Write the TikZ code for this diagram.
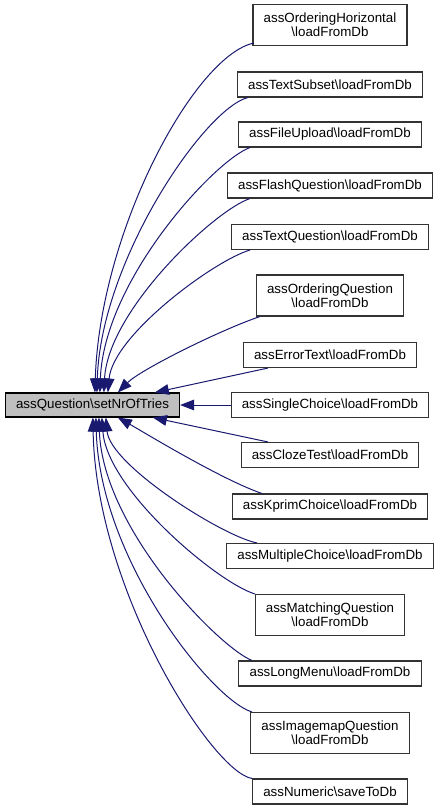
\documentclass[tikz,border=0pt]{standalone}
\usepackage{fontspec}
\setmainfont{Liberation Sans}
\usetikzlibrary{arrows.meta,calc}
\definecolor{edgeblue}{HTML}{191970}
\definecolor{maingray}{HTML}{BFBFBF}
\definecolor{boxline}{HTML}{333333}
\begin{document}
\begin{tikzpicture}[x=0.75pt,y=-0.75pt,
  box/.style={draw=boxline, line width=0.8pt, fill=white, font=\fontsize{10}{10.5}\selectfont, inner xsep=8pt, inner ysep=2pt, align=center},
  one/.style={box, minimum height=18.75pt},
  two/.style={box, minimum height=30.75pt},
  mainbox/.style={box, draw=black, fill=maingray, minimum height=18pt},
  edge/.style={draw=edgeblue, line width=0.75pt, -{Triangle[length=10.5pt,width=8pt]}}]
\useasboundingbox (0,0) rectangle (437,810);

\node[mainbox] (m) at (92.5,405) {assQuestion\textbackslash setNrOfTries};

\node[two] (n1) at (330,25) {assOrderingHorizontal\\\textbackslash loadFromDb};
\node[one] (n2) at (330,84.5) {assTextSubset\textbackslash loadFromDb};
\node[one] (n3) at (330,134.5) {assFileUpload\textbackslash loadFromDb};
\node[one] (n4) at (330,185.5) {assFlashQuestion\textbackslash loadFromDb};
\node[one] (n5) at (330,237) {assTextQuestion\textbackslash loadFromDb};
\node[two] (n6) at (330,295.5) {assOrderingQuestion\\\textbackslash loadFromDb};
\node[one] (n7) at (330,355) {assErrorText\textbackslash loadFromDb};
\node[one] (n8) at (330,405) {assSingleChoice\textbackslash loadFromDb};
\node[one] (n9) at (330,455) {assClozeTest\textbackslash loadFromDb};
\node[one] (n10) at (330,506.5) {assKprimChoice\textbackslash loadFromDb};
\node[one] (n11) at (330,556) {assMultipleChoice\textbackslash loadFromDb};
\node[two] (n12) at (330,615) {assMatchingQuestion\\\textbackslash loadFromDb};
\node[one] (n13) at (330,673.5) {assLongMenu\textbackslash loadFromDb};
\node[two] (n14) at (330,733) {assImagemapQuestion\\\textbackslash loadFromDb};
\node[one] (n15) at (330,791.5) {assNumeric\textbackslash saveToDb};

% upper edges
\draw[edge] ($(n1.south)+(-76,-3)$) .. controls (195,55) and (100,230) .. ($(m.north west)+(90,0)$);
\draw[edge] ($(n2.south)+(-82,0)$) .. controls (205,108) and (101,260) .. ($(m.north west)+(92,0)$);
\draw[edge] ($(n3.south)+(-80,0)$) .. controls (215,160) and (104,280) .. ($(m.north west)+(95,0)$);
\draw[edge] ($(n4.south)+(-80,0)$) .. controls (215,210) and (108,310) .. ($(m.north west)+(99,0)$);
\draw[edge] ($(n5.south)+(-80,0)$) .. controls (215,260) and (113,335) .. ($(m.north west)+(103,0)$);
\draw[edge] ($(n6.south)+(-70,0)$) .. controls (220,330) and (140,370) .. ($(m.north west)+(113,0)$);
\draw[edge] ($(n7.south)+(-62,0)$) -- ($(m.north west)+(150,0)$);
% middle
\draw[edge] (n8.west) -- (m.east);
% lower edges
\draw[edge] ($(n9.north)+(-62,0)$) -- ($(m.south west)+(148,0)$);
\draw[edge] ($(n10.north)+(-68,0)$) .. controls (222,480) and (140,430) .. ($(m.south west)+(113,0)$);
\draw[edge] ($(n11.north)+(-73,0)$) .. controls (222,536) and (110,465) .. ($(m.south west)+(101,0)$);
\draw[edge] ($(n12.north)+(-75,0)$) .. controls (218,583) and (107,490) .. ($(m.south west)+(97,0)$);
\draw[edge] ($(n13.north)+(-78,0)$) .. controls (220,648) and (103,530) .. ($(m.south west)+(94,0)$);
\draw[edge] ($(n14.north)+(-78,0)$) .. controls (212,700) and (100,560) .. ($(m.south west)+(91,0)$);
\draw[edge] ($(n15.north)+(-78,0)$) .. controls (212,772) and (96,590) .. ($(m.south west)+(88,0)$);
\end{tikzpicture}
\end{document}
